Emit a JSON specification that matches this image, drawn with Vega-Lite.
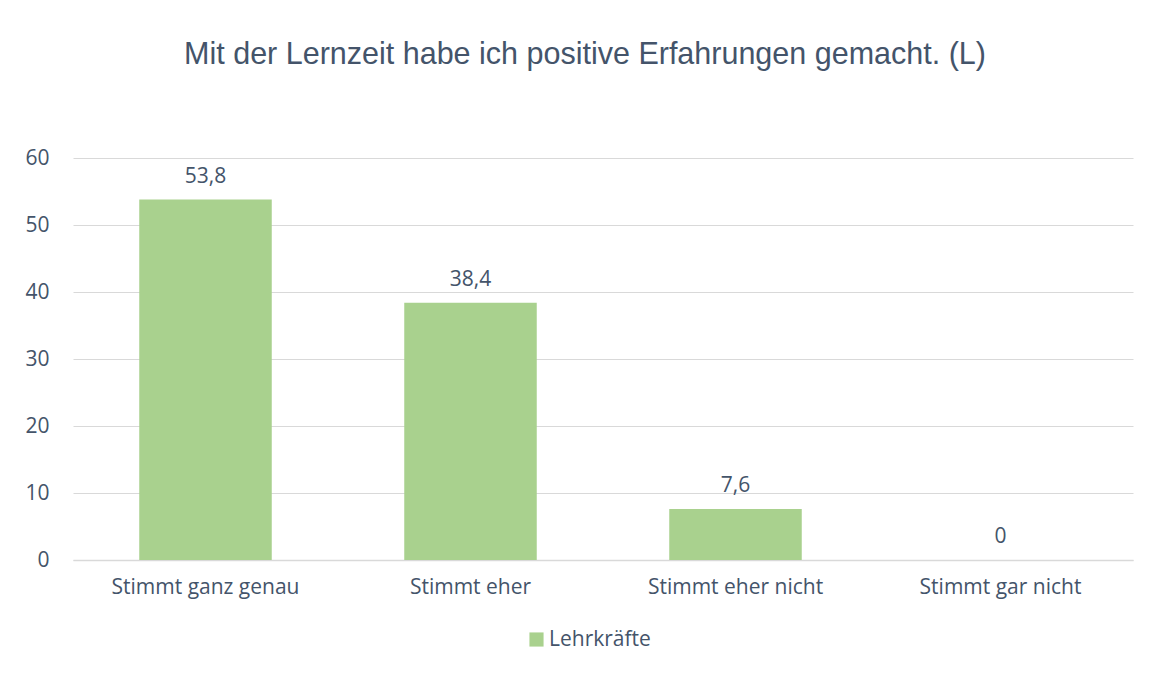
{
  "$schema": "https://vega.github.io/schema/vega-lite/v6.json",
  "autosize": {"type": "none"},
  "width": 1060,
  "height": 402,
  "padding": {"left": 73, "top": 158, "right": 20, "bottom": 115},
  "background": "white",
  "title": {
    "text": "Mit der Lernzeit habe ich positive Erfahrungen gemacht. (L)",
    "font": "Liberation Sans",
    "fontSize": 30.5,
    "fontWeight": "normal",
    "color": "#44546a",
    "anchor": "middle",
    "baseline": "alphabetic",
    "offset": 53,
    "dx": -18
  },
  "data": {
    "values": [
      {"Antwort": "Stimmt ganz genau", "Prozent": 53.8, "Gruppe": "Lehrkräfte"},
      {"Antwort": "Stimmt eher", "Prozent": 38.4, "Gruppe": "Lehrkräfte"},
      {"Antwort": "Stimmt eher nicht", "Prozent": 7.6, "Gruppe": "Lehrkräfte"},
      {"Antwort": "Stimmt gar nicht", "Prozent": 0, "Gruppe": "Lehrkräfte"}
    ]
  },
  "encoding": {
    "x": {
      "field": "Antwort",
      "type": "nominal",
      "sort": null,
      "scale": {"paddingInner": 0.5, "paddingOuter": 0.25},
      "axis": {
        "title": null,
        "labelAngle": 0,
        "labelLimit": 400,
        "ticks": false,
        "domain": true,
        "domainColor": "#d9d9d9",
        "domainWidth": 1.5,
        "labelPadding": 16,
        "labelFont": "Open Sans",
        "labelFontSize": 21,
        "labelColor": "#44546a"
      }
    },
    "y": {
      "field": "Prozent",
      "type": "quantitative",
      "scale": {"domain": [0, 60]},
      "axis": {
        "title": null,
        "values": [0, 10, 20, 30, 40, 50, 60],
        "ticks": false,
        "domain": false,
        "gridColor": "#d9d9d9",
        "gridWidth": 1,
        "labelPadding": 24,
        "labelFont": "Open Sans",
        "labelFontSize": 21,
        "labelColor": "#44546a"
      }
    }
  },
  "layer": [
    {
      "mark": {"type": "bar", "color": "#a9d18e"},
      "encoding": {
        "color": {
          "field": "Gruppe",
          "type": "nominal",
          "scale": {"range": ["#a9d18e"]},
          "legend": {
            "title": null,
            "orient": "none",
            "legendX": 453,
            "legendY": 471,
            "symbolType": "square",
            "symbolSize": 200,
            "symbolStrokeWidth": 0,
            "labelOffset": 2,
            "labelFont": "Open Sans",
            "labelFontSize": 21,
            "labelColor": "#44546a"
          }
        }
      }
    },
    {
      "mark": {"type": "text", "baseline": "bottom", "dy": -13, "font": "Open Sans", "fontSize": 21, "color": "#44546a"},
      "encoding": {
        "text": {"field": "Prozent", "type": "quantitative", "format": ".1~f"}
      }
    }
  ],
  "config": {
    "view": {"stroke": null},
    "locale": {
      "number": {"decimal": ",", "thousands": ".", "grouping": [3], "currency": ["", " €"]}
    }
  }
}
